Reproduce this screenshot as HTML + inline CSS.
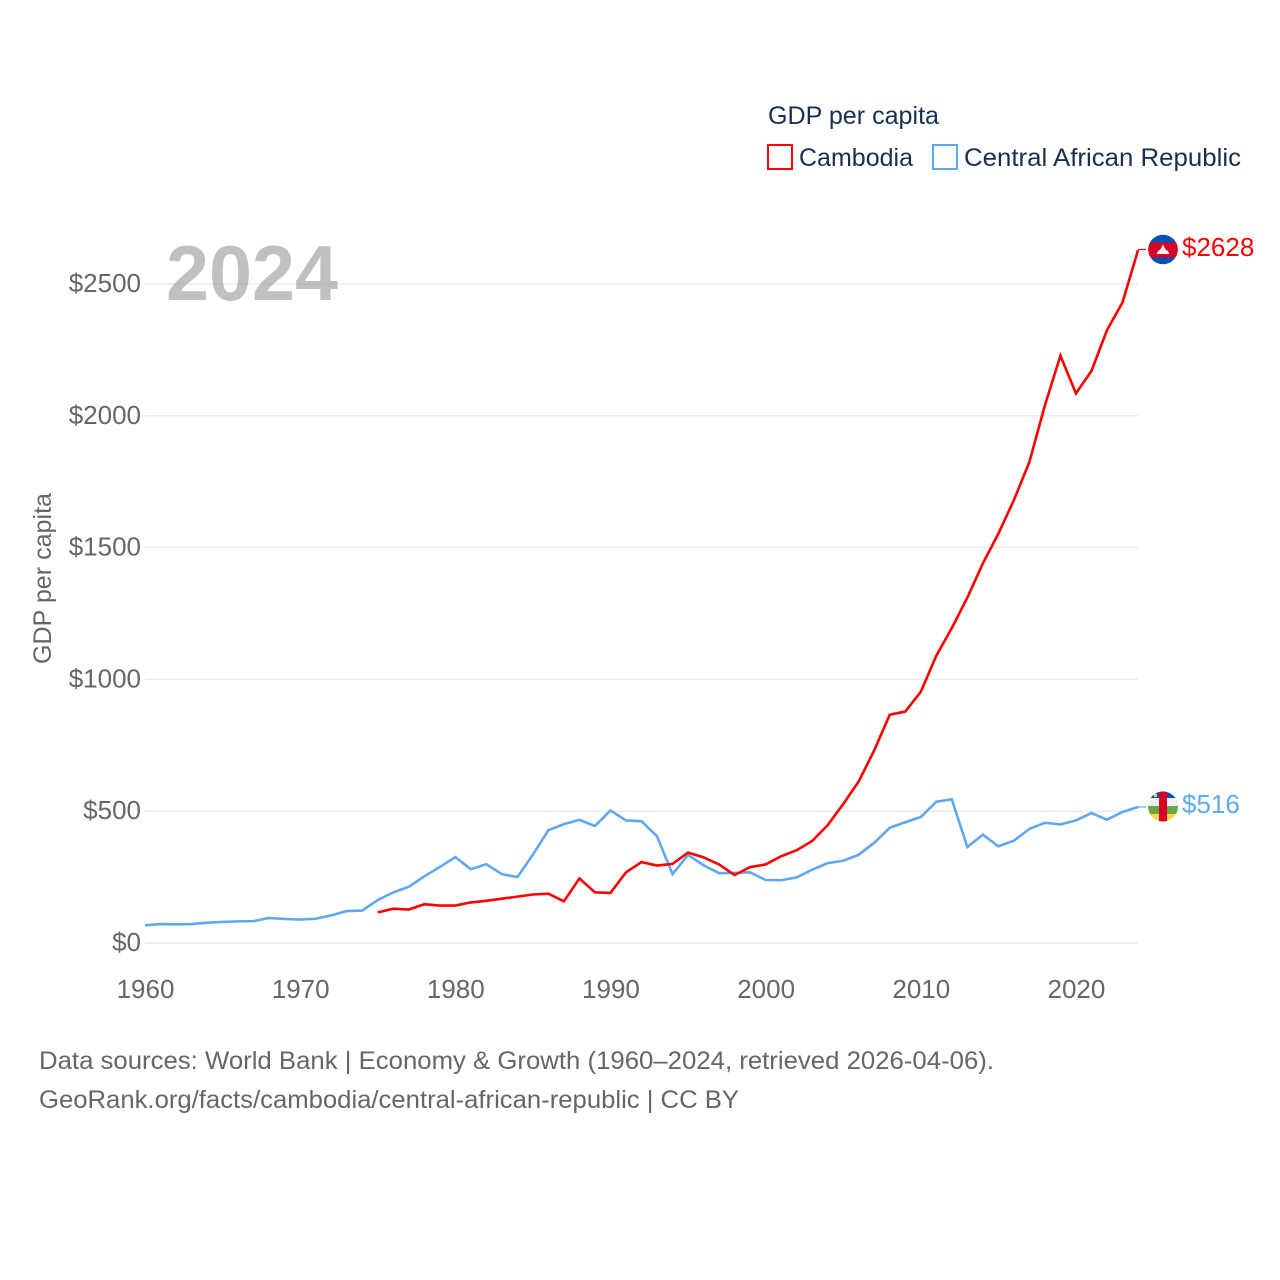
<!DOCTYPE html>
<html lang="en">
<head>
<meta charset="utf-8">
<title>GDP per capita: Cambodia and Central African Republic</title>
<style>
html,body{margin:0;padding:0;background:#fff;}
svg{display:block;font-family:"Liberation Sans",sans-serif;}
</style>
</head>
<body>
<svg id="chart" xmlns="http://www.w3.org/2000/svg" width="1280" height="1280" viewBox="0 0 1280 1280">
  <defs>
    <clipPath id="clip-kh"><circle cx="1163" cy="249.5" r="14.8"/></clipPath>
    <clipPath id="clip-cf"><circle cx="1163" cy="806.5" r="15"/></clipPath>
  </defs>

  <g id="grid"></g>
  <g id="y-axis"></g>
  <g id="x-axis"></g>

  <text x="166" y="300" font-size="78" font-weight="700" fill="#8c8c8c" fill-opacity="0.55" textLength="172" lengthAdjust="spacingAndGlyphs">2024</text>

  <text transform="translate(51,664) rotate(-90)" font-size="25" fill="#666666" textLength="171" lengthAdjust="spacingAndGlyphs">GDP per capita</text>

  <g id="series"></g>

  <g clip-path="url(#clip-kh)">
    <rect x="1148" y="234" width="30" height="31" fill="#0052b4"/>
    <rect x="1148" y="242.5" width="30" height="15" fill="#d80027"/>
    <polygon points="1156.5,254 1158.5,250.5 1160,250 1163,244.5 1166,250 1167.5,250.5 1169.5,254" fill="#f0f0f0"/>
  </g>
  <g clip-path="url(#clip-cf)">
    <rect x="1148" y="791" width="30" height="8" fill="#0052b4"/>
    <rect x="1148" y="798" width="30" height="8" fill="#f0f0f0"/>
    <rect x="1148" y="806" width="30" height="8" fill="#6da544"/>
    <rect x="1148" y="814" width="30" height="9" fill="#ffda44"/>
    <rect x="1159" y="791" width="8" height="31" fill="#d80027"/>
    <circle cx="1155.5" cy="795.5" r="1.7" fill="#ffda44"/>
  </g>

  <text id="end-label-cambodia" x="1182" y="256" font-size="26" fill="#ff0000"></text>
  <text id="end-label-car" x="1182" y="813" font-size="26" fill="#5fa8ef"></text>

  <g>
    <text x="768" y="124" font-size="25" fill="#18304f" textLength="171" lengthAdjust="spacingAndGlyphs">GDP per capita</text>
    <g>
      <rect x="768" y="145" width="24" height="24" fill="none" stroke="#ff0000" stroke-width="2"/>
      <text x="799" y="166" font-size="25" fill="#18304f" textLength="114" lengthAdjust="spacingAndGlyphs">Cambodia</text>
    </g>
    <g>
      <rect x="933" y="145" width="24" height="24" fill="none" stroke="#5fa8ef" stroke-width="2"/>
      <text x="964" y="166" font-size="25" fill="#18304f" textLength="277" lengthAdjust="spacingAndGlyphs">Central African Republic</text>
    </g>
  </g>

  <text x="39" y="1069" font-size="25" fill="#666666" textLength="955" lengthAdjust="spacingAndGlyphs">Data sources: World Bank | Economy &amp; Growth (1960–2024, retrieved 2026-04-06).</text>
  <text x="39" y="1108" font-size="25" fill="#666666" textLength="700" lengthAdjust="spacingAndGlyphs">GeoRank.org/facts/cambodia/central-african-republic | CC BY</text>
</svg>

<script>
const yTicks = [0, 500, 1000, 1500, 2000, 2500];
const xTicks = [1960, 1970, 1980, 1990, 2000, 2010, 2020];

const cambodiaStartYear = 1975;
const cambodiaValues = [116,130,127,147,142,142,154,160,168,176,184,187,158,245,192,190,268,307,294,300,343,325,298,258,288,298,329,352,387,447,527,613,731,866,878,953,1090,1195,1310,1440,1553,1680,1825,2040,2228,2085,2170,2325,2430,2628];

const carStartYear = 1960;
const carValues = [67,72,71,72,77,80,82,83,95,91,89,92,105,121,123,163,192,213,253,288,326,280,299,261,250,335,428,451,467,444,503,465,462,405,261,334,295,265,266,268,239,238,249,278,303,312,335,380,437,458,478,536,545,364,411,367,388,433,456,450,465,493,468,497,516];

const NS = 'http://www.w3.org/2000/svg';
function xScale(year) { return 145 + (year - 1960) * (1138 - 145) / 64; }
function yScale(value) { return 943 - value * (943 - 284) / 2500; }

const gridGroup = document.getElementById('grid');
const yGroup = document.getElementById('y-axis');
const xGroup = document.getElementById('x-axis');
const seriesGroup = document.getElementById('series');

yTicks.forEach(function (tick) {
  const line = document.createElementNS(NS, 'line');
  
  
  line.setAttribute('x1', 145);
  line.setAttribute('x2', 1138);
  line.setAttribute('y1', yScale(tick));
  line.setAttribute('y2', yScale(tick));
  line.setAttribute('stroke', '#ececec');
  line.setAttribute('stroke-width', '1.5');
  gridGroup.appendChild(line);

  const label = document.createElementNS(NS, 'text');
  
  
  label.setAttribute('x', 141);
  label.setAttribute('y', yScale(tick) + 8);
  label.setAttribute('text-anchor', 'end');
  label.setAttribute('font-size', '26');
  label.setAttribute('fill', '#666666');
  label.textContent = '$' + tick;
  yGroup.appendChild(label);
});

xTicks.forEach(function (tick) {
  const label = document.createElementNS(NS, 'text');
  
  
  label.setAttribute('x', xScale(tick) + 0.5);
  label.setAttribute('y', 998);
  label.setAttribute('text-anchor', 'middle');
  label.setAttribute('font-size', '26');
  label.setAttribute('fill', '#666666');
  label.textContent = tick;
  xGroup.appendChild(label);
});

function linePoints(startYear, values) {
  return values.map(function (value, i) {
    return xScale(startYear + i).toFixed(2) + ',' + yScale(value).toFixed(2);
  }).join(' ');
}

const carLine = document.createElementNS(NS, 'polyline');


carLine.setAttribute('points', linePoints(carStartYear, carValues));
carLine.setAttribute('fill', 'none');
carLine.setAttribute('stroke', '#5fa8ef');
carLine.setAttribute('stroke-width', '2.6');
seriesGroup.appendChild(carLine);

const cambodiaLine = document.createElementNS(NS, 'polyline');


cambodiaLine.setAttribute('points', linePoints(cambodiaStartYear, cambodiaValues));
cambodiaLine.setAttribute('fill', 'none');
cambodiaLine.setAttribute('stroke', '#ff0000');
cambodiaLine.setAttribute('stroke-width', '2.6');
seriesGroup.appendChild(cambodiaLine);

const cambodiaLast = cambodiaValues[cambodiaValues.length - 1];
const carLast = carValues[carValues.length - 1];

const cambodiaConnector = document.createElementNS(NS, 'line');


cambodiaConnector.setAttribute('x1', 1138);
cambodiaConnector.setAttribute('x2', 1146);
cambodiaConnector.setAttribute('y1', yScale(cambodiaLast) - 0.7);
cambodiaConnector.setAttribute('y2', yScale(cambodiaLast) - 0.7);
cambodiaConnector.setAttribute('stroke', '#ff0000');
cambodiaConnector.setAttribute('stroke-width', '1.2');
seriesGroup.appendChild(cambodiaConnector);

const carConnector = document.createElementNS(NS, 'line');


carConnector.setAttribute('x1', 1138);
carConnector.setAttribute('x2', 1146);
carConnector.setAttribute('y1', yScale(carLast));
carConnector.setAttribute('y2', yScale(carLast));
carConnector.setAttribute('stroke', '#5fa8ef');
carConnector.setAttribute('stroke-width', '1.2');
seriesGroup.appendChild(carConnector);

document.getElementById('end-label-cambodia').textContent = '$' + cambodiaLast;
document.getElementById('end-label-car').textContent = '$' + carLast;
</script>
</body>
</html>
